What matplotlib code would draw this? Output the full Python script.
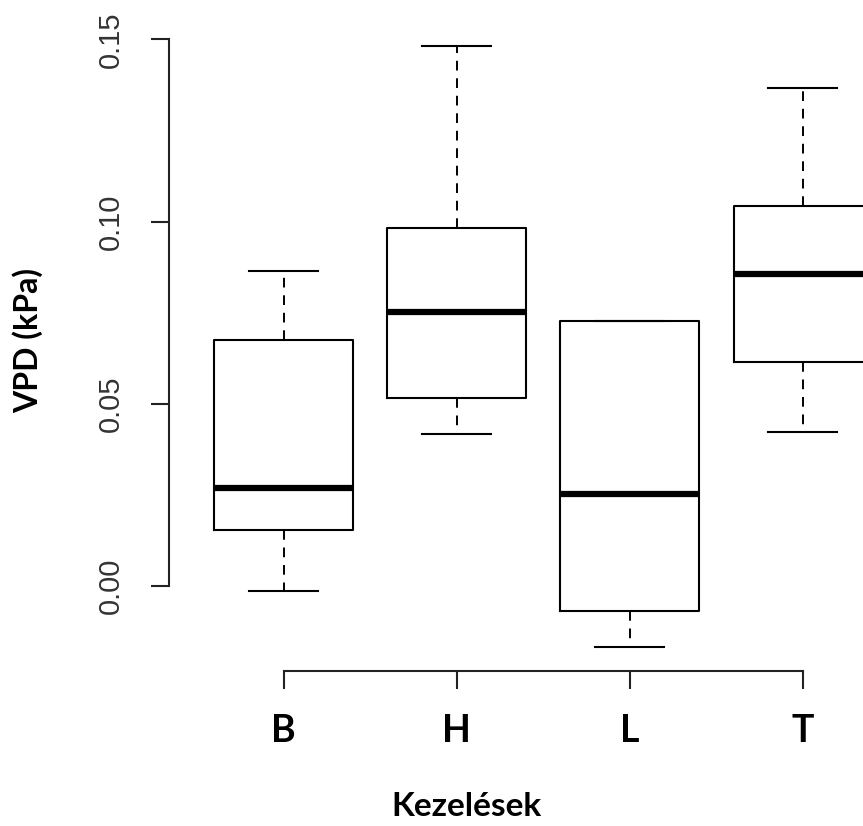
import matplotlib.pyplot as plt

# box statistics (kPa)
groups = ["B", "H", "L", "T"]
whislo = [-0.0013, 0.0416, -0.0167, 0.0423]
q1 = [0.0154, 0.0515, -0.0068, 0.0615]
med = [0.0268, 0.0751, 0.0252, 0.0856]
q3 = [0.0675, 0.0982, 0.0728, 0.1044]
whishi = [0.0865, 0.1483, 0.0728, 0.1367]
yticks = [0.00, 0.05, 0.10, 0.15]

stats = []
for i, g in enumerate(groups):
    stats.append({"label": g, "whislo": whislo[i], "q1": q1[i], "med": med[i],
                  "q3": q3[i], "whishi": whishi[i], "fliers": []})

fig = plt.figure(figsize=(8.63, 8.26), dpi=100)
W, H = 863, 826
# R-style plot region, runs off the right edge like the original
left, right, bottom, top = 169.3, 917.0, 671.0, 21.5
ax = fig.add_axes([left / W, (H - bottom) / H, (right - left) / W, (bottom - top) / H])

ax.bxp(stats, positions=[1, 2, 3, 4], widths=0.8, capwidths=0.4,
       showfliers=False, patch_artist=False,
       boxprops=dict(color="black", linewidth=1.5),
       medianprops=dict(color="black", linewidth=4.5, solid_capstyle="butt"),
       whiskerprops=dict(color="black", linewidth=1.4, linestyle=(0, (5, 4))),
       capprops=dict(color="black", linewidth=1.5))

ymin = min(whislo)
ymax = max(whishi)
pad = 0.04 * (ymax - ymin)
ax.set_ylim(ymin - pad, ymax + pad)
ax.set_xlim(0.34, 4.66)

for s in ["top", "right"]:
    ax.spines[s].set_visible(False)
ax.spines["left"].set_bounds(0, 0.15)
ax.spines["bottom"].set_bounds(1, 4)
for s in ["left", "bottom"]:
    ax.spines[s].set_linewidth(1.5)
    ax.spines[s].set_color("#222222")

ax.set_yticks(yticks)
ax.set_yticklabels([f"{v:.2f}" for v in yticks], rotation=90, va="center",
                   family="Liberation Sans", fontsize=21, color="#333333")
ax.set_xticks([1, 2, 3, 4])
ax.set_xticklabels(groups, family="Lato", fontweight="bold", fontsize=27)
ax.tick_params(axis="y", length=13, width=1.5, color="#222222", pad=19)
ax.tick_params(axis="x", length=13, width=1.5, color="#222222", pad=18)

fig.text(466 / W, 1 - 807 / H, "Kezelések", ha="center", va="center",
         family="Lato", fontweight="bold", fontsize=24)
fig.text(28 / W, 1 - 340 / H, "VPD (kPa)", ha="center", va="center", rotation=90,
         family="Lato", fontweight="bold", fontsize=23)

fig.savefig("out.png", dpi=100)
